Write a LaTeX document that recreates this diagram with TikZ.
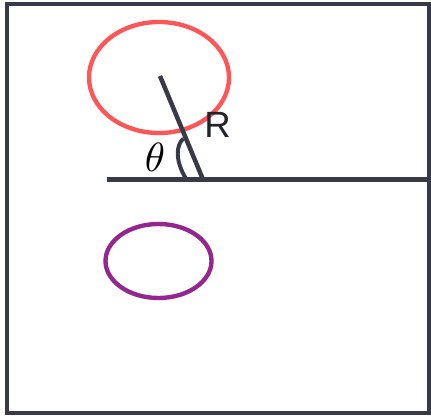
\documentclass[tikz,border=0pt]{standalone}
\usepackage{fontspec}
\usepackage{tikz}
\usepackage{xcolor}
\newfontfamily\labelfont{Liberation Sans}
\definecolor{framegray}{HTML}{383A47}
\definecolor{ringred}{HTML}{FF5757}
\definecolor{ringpurple}{HTML}{93278F}
\tikzset{
    thickline/.style={line width=3.2pt, framegray},
    ring/.style={line width=3.1pt}
}

\begin{document}
\begin{tikzpicture}[x=0.025cm, y=-0.025cm]
    \useasboundingbox (0,0) rectangle (431,418);

    % Outer frame
    \draw[thickline] (7,4) rectangle (429.5,413);

    % Ground line
    \coordinate (g0) at (107,179.5);
    \coordinate (g1) at (429.5,179.5);
    \draw[thickline] (g0) -- (g1);

    % Red and purple rings
    \coordinate (redc) at (159,77.5);
    \coordinate (purc) at (158.5,261);
    \draw[ring, ringred] (redc) ellipse [x radius=70, y radius=55.5];
    \draw[ring, ringpurple] (purc) ellipse [x radius=53, y radius=37];

    % Rod from ring centre to the ground
    \coordinate (rtop) at (160,76);
    \coordinate (pivot) at (203,179.5);
    \draw[thickline] (rtop) -- (pivot);

    % Angle mark and labels
    \draw[line width=2.8pt, framegray] (185.5,178) .. controls (175,160) and (176,145) .. (183.5,138.5);
    \node[scale=2.9, inner sep=0pt] (theta) at (155,157.5) {$\theta$};
    \node[inner sep=0pt, font=\labelfont\fontsize{26}{28}\selectfont, framegray!60!black] (rlabel) at (217.5,125) {R};

\end{tikzpicture}
\end{document}
